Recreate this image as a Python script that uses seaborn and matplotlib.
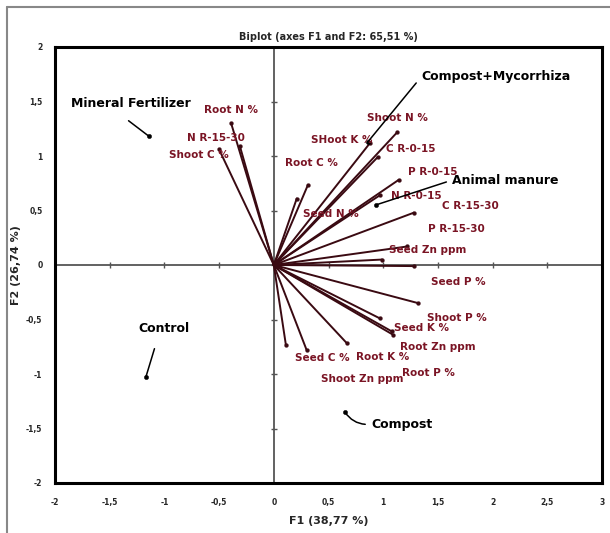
import matplotlib
matplotlib.use("Agg")
import numpy as np
import pandas as pd
import seaborn as sns
import matplotlib.pyplot as plt
from matplotlib.lines import Line2D
from matplotlib import font_manager as fm

# ---------------- data ----------------
var_names = ["Root N %", "N R-15-30", "Shoot C %", "Shoot N %", "SHoot K %",
             "C R-0-15", "Root C %", "P R-0-15", "N R-0-15", "Seed N %",
             "C R-15-30", "P R-15-30", "Seed Zn ppm", "Seed P %", "Shoot P %",
             "Seed K %", "Root Zn ppm", "Root P %", "Root K %", "Seed C %",
             "Shoot Zn ppm"]
var_f1 = [-0.39, -0.31, -0.50, 1.13, 0.88, 0.95, 0.31, 1.14, 0.97, 0.21,
          1.28, 1.22, 0.99, 1.28, 1.32, 0.97, 1.08, 1.09, 0.67, 0.11, 0.30]
var_f2 = [1.30, 1.09, 1.06, 1.22, 1.12, 0.99, 0.73, 0.78, 0.64, 0.61,
          0.48, 0.17, 0.05, -0.01, -0.35, -0.49, -0.61, -0.64, -0.72, -0.73, -0.78]

obs_names = ["Mineral Fertilizer", "Control", "Compost", "Compost+Mycorrhiza", "Animal manure"]
obs_f1 = [-1.14, -1.17, 0.65, 0.86, 0.93]
obs_f2 = [1.18, -1.03, -1.35, 1.13, 0.55]

x_ticks = [-2, -1.5, -1, -0.5, 0, 0.5, 1, 1.5, 2, 2.5, 3]
y_ticks = [-2, -1.5, -1, -0.5, 0, 0.5, 1, 1.5, 2]

title = "Biplot (axes F1 and F2: 65,51 %)"
x_label = "F1 (38,77 %)"
y_label = "F2 (26,74 %)"

# label offsets in pixels (style only)
var_offsets = {
    "Root N %": (0, 13), "N R-15-30": (-24, 8), "Shoot C %": (-20, -6),
    "Shoot N %": (0, 14), "SHoot K %": (-28, 3), "C R-0-15": (33, 8),
    "Root C %": (4, 22), "P R-0-15": (34, 8), "N R-0-15": (36, -1),
    "Seed N %": (34, -15), "C R-15-30": (57, 7), "P R-15-30": (49, 17),
    "Seed Zn ppm": (46, 10), "Seed P %": (44, -16), "Shoot P %": (39, -15),
    "Seed K %": (42, -10), "Root Zn ppm": (46, -16), "Root P %": (35, -38),
    "Root K %": (36, -14), "Seed C %": (36, -13), "Shoot Zn ppm": (56, -29),
}
# (text offset px, relpos, shrinkA pt, connection style)
obs_style = {
    "Mineral Fertilizer": ((-18, 33), (0.36, 0.0), 9, "arc3,rad=0"),
    "Control": ((18, 49), (0.4, 0.0), 8, "arc3,rad=0"),
    "Compost": ((57, -12), (0.0, 0.5), 2, "arc3,rad=-0.3"),
    "Compost+Mycorrhiza": ((128, 65), (0.0, 0.5), 2, "arc3,rad=0"),
    "Animal manure": ((130, 25), (0.0, 0.5), 2, "arc3,rad=0"),
}

# ---------------- style ----------------
sns.set_style("white")
avail = {f.name for f in fm.fontManager.ttflist}
if "Liberation Sans Narrow" in avail:
    plt.rcParams["font.family"] = ["Liberation Sans Narrow", "DejaVu Sans"]
    s_var, s_obs, s_tick, s_title = 9.5, 11, 6.5, 8
else:
    plt.rcParams["font.family"] = ["DejaVu Sans"]
    s_var, s_obs, s_tick, s_title = 7.5, 9, 5.5, 7

vec_color = "#3a0a12"
lab_color = "#7a1424"

fig = plt.figure(figsize=(6.10, 5.33), dpi=100)
ax = fig.add_axes([55 / 610, 1 - 483 / 533, 547 / 610, 436 / 533])

var_df = pd.DataFrame({"name": var_names, "F1": var_f1, "F2": var_f2})
obs_df = pd.DataFrame({"name": obs_names, "F1": obs_f1, "F2": obs_f2})

# zero axes with tick marks
ax.axhline(0, color="#555555", lw=1.3, zorder=1)
ax.axvline(0, color="#555555", lw=1.3, zorder=1)
ax.plot([t for t in x_ticks if t not in (-2, 3)], [0] * 9, ls="none",
        marker="|", ms=5, color="#555555", mew=1.0, zorder=1)
ax.plot([0] * 7, [t for t in y_ticks if t not in (-2, 2)], ls="none",
        marker="_", ms=5, color="#555555", mew=1.0, zorder=1)

# vectors
for _, r in var_df.iterrows():
    ax.plot([0, r.F1], [0, r.F2], color=vec_color, lw=1.4, zorder=2,
            solid_capstyle="round")
sns.scatterplot(data=var_df, x="F1", y="F2", ax=ax, color=vec_color, s=8,
                edgecolor=vec_color, zorder=3, legend=False)
for _, r in var_df.iterrows():
    ax.annotate(r["name"], (r.F1, r.F2), xytext=var_offsets[r["name"]],
                textcoords="offset pixels", ha="center", va="center",
                fontsize=s_var, fontweight="bold", color=lab_color, zorder=4)

# observations
sns.scatterplot(data=obs_df, x="F1", y="F2", ax=ax, color="black", s=10,
                edgecolor="black", zorder=3, legend=False)
for _, r in obs_df.iterrows():
    off, rel, shr, cs = obs_style[r["name"]]
    ax.annotate(r["name"], (r.F1, r.F2), xytext=off,
                textcoords="offset pixels", ha="center", va="center",
                fontsize=s_obs, fontweight="bold", color="black", zorder=4,
                arrowprops=dict(arrowstyle="-", color="black", lw=1.1,
                                shrinkA=shr, shrinkB=0, relpos=rel,
                                connectionstyle=cs))

ax.set_xlim(-2, 3)
ax.set_ylim(-2, 2)
ax.set_xticks(x_ticks)
ax.set_yticks(y_ticks)
fmt = lambda v: ("%g" % v).replace(".", ",")
ax.set_xticklabels([fmt(v) for v in x_ticks], fontsize=s_tick, fontweight="bold")
ax.set_yticklabels([fmt(v) for v in y_ticks], fontsize=s_tick, fontweight="bold")
ax.tick_params(axis="both", length=0)
ax.tick_params(axis="x", pad=11)
ax.tick_params(axis="y", pad=9)
for sp in ax.spines.values():
    sp.set_visible(True)
    sp.set_color("black")
    sp.set_linewidth(2.2)

ax.set_title(title, fontsize=s_title, fontweight="bold", pad=5)
ax.set_xlabel(x_label, fontsize=s_title + 1, fontweight="bold", labelpad=6)
ax.set_ylabel(y_label, fontsize=s_title + 1, fontweight="bold", labelpad=4)

# outer border of the figure picture
fig.add_artist(Line2D([7 / 610, 7 / 610], [0, 1 - 7 / 533], transform=fig.transFigure,
                      color="#888888", lw=1.5))
fig.add_artist(Line2D([7 / 610, 1], [1 - 7 / 533, 1 - 7 / 533], transform=fig.transFigure,
                      color="#888888", lw=1.5))

fig.savefig("out.png", dpi=100)
